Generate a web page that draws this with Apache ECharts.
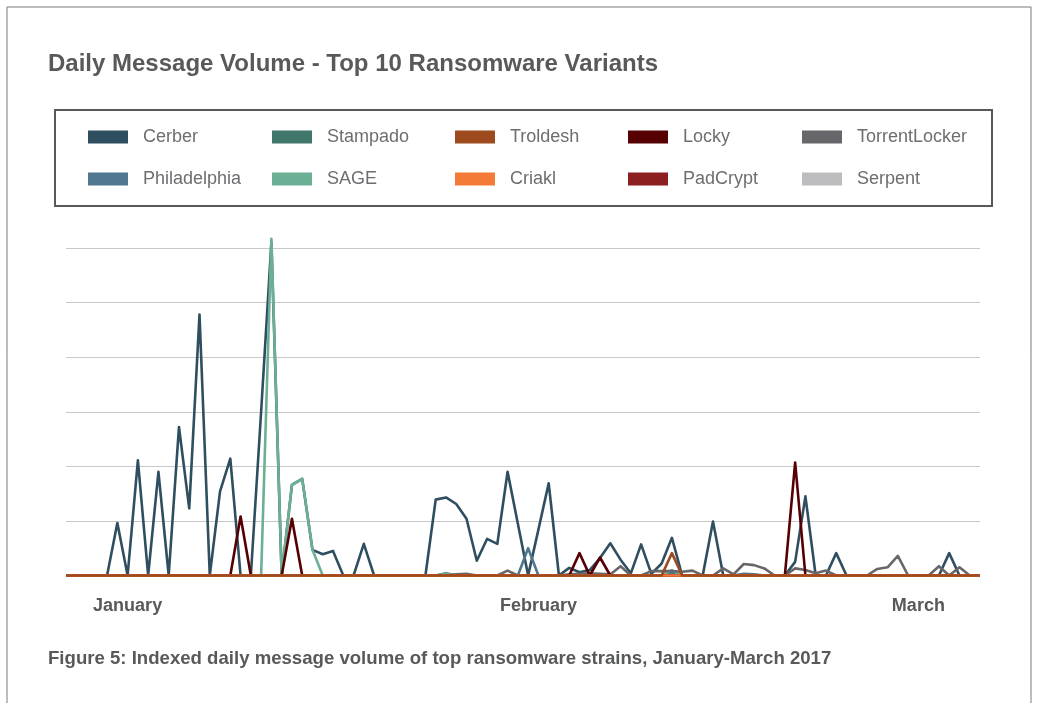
<!DOCTYPE html>
<html>
<head>
<meta charset="utf-8">
<title>Daily Message Volume - Top 10 Ransomware Variants</title>
<script src="https://cdn.jsdelivr.net/npm/echarts@6/dist/echarts.min.js"></script>
<style>
  html, body { margin: 0; padding: 0; background: #ffffff; }
  #chart { width: 1045px; height: 703px; }
</style>
</head>
<body>
<div id="chart"></div>
<script>
// Indexed daily message volume, 1 Jan - 31 Mar 2017 (90 days)
const monthNames = ['Jan', 'Feb', 'Mar'];
const monthLengths = [31, 28, 31];
const days = [];
monthNames.forEach((m, mi) => {
  for (let d = 1; d <= monthLengths[mi]; d++) days.push(m + ' ' + d);
});

// Month labels shown under the axis, and the day each one sits on
const monthLabels = ['January', 'February', 'March'];
const monthLabelDays = ['Jan 7', 'Feb 16', 'Mar 25'];

const seriesNames = ['Cerber', 'Philadelphia', 'Stampado', 'SAGE', 'TorrentLocker',
  'Serpent', 'Locky', 'PadCrypt', 'Criakl', 'Troldesh'];

const cerber = [
  0, 0, 0, 0, 0, 9.6, 0, 21.1, 0, 19.0,
  0, 27.2, 12.3, 47.8, 0, 15.4, 21.4, 0, 0, 30.0,
  61.0, 0, 16.6, 17.7, 4.7, 3.9, 4.5, 0, 0, 5.8,
  0, 0, 0, 0, 0, 0, 13.9, 14.3, 13.1, 10.4,
  2.7, 6.7, 5.8, 19.0, 9.5, 0, 8.4, 16.9, 0, 1.4,
  0.6, 1.0, 3.2, 5.9, 2.9, 0.4, 5.7, 0.3, 2.2, 6.9,
  0, 0, 0, 9.9, 0, 0, 0, 0, 0, 0,
  0, 2.5, 14.5, 0, 0, 4.1, 0, 0, 0, 0,
  0, 0, 0, 0, 0, 0, 4.1, 0, 0, 0
];
const philadelphia = [
  0, 0, 0, 0, 0, 0, 0, 0, 0, 0,
  0, 0, 0, 0, 0, 0, 0, 0, 0, 0,
  0, 0, 0, 0, 0, 0, 0, 0, 0, 0,
  0, 0, 0, 0, 0, 0, 0, 0, 0, 0,
  0, 0, 0, 0, 0, 5.0, 0, 0, 0, 0,
  0, 0, 0, 0, 0, 0, 0, 0, 0, 0.5,
  0, 0, 0, 0, 0, 0, 0.3, 0.2, 0, 0,
  0, 0, 0, 0, 0, 0, 0, 0, 0, 0,
  0, 0, 0, 0, 0, 0, 0, 0, 0, 0
];
const stampado = [
  0, 0, 0, 0, 0, 0, 0, 0, 0, 0,
  0, 0, 0, 0, 0, 0, 0, 0, 0, 0,
  0, 0, 0, 0, 0, 0, 0, 0, 0, 0,
  0, 0, 0, 0, 0, 0, 0, 0.4, 0, 0,
  0, 0, 0, 0, 0, 0, 0, 0, 0, 0,
  0, 0, 0, 0, 0, 0, 0, 0, 0, 0,
  0, 0, 0, 0, 0, 0, 0, 0, 0, 0,
  0, 0, 0, 0, 0, 0, 0, 0, 0, 0,
  0, 0, 0, 0, 0, 0, 0, 0, 0, 0
];
const sage = [
  0, 0, 0, 0, 0, 0, 0, 0, 0, 0,
  0, 0, 0, 0, 0, 0, 0, 0, 0, 0,
  61.7, 0, 16.6, 17.7, 4.7, 0, 0, 0, 0, 0,
  0, 0, 0, 0, 0, 0, 0, 0.3, 0, 0,
  0, 0, 0, 0, 0, 0, 0, 0, 0, 0,
  0, 0, 0, 0, 0, 0, 0, 0, 0, 1.0,
  0, 0, 0, 0, 0, 0, 0, 0, 0, 0,
  0, 0, 0, 0, 0, 0, 0, 0, 0, 0,
  0, 0, 0, 0, 0, 0, 0, 0, 0, 0
];
const torrentLocker = [
  0, 0, 0, 0, 0, 0, 0, 0, 0, 0,
  0, 0, 0, 0, 0, 0, 0, 0, 0, 0,
  0, 0, 0, 0, 0, 0, 0, 0, 0, 0,
  0, 0, 0, 0, 0, 0, 0, 0, 0.2, 0.3,
  0, 0, 0, 0.9, 0, 0, 0, 0, 0, 0.2,
  0.3, 0.4, 0.3, 0.2, 1.7, 0, 0, 0.8, 0.8, 0.8,
  0.7, 0.9, 0, 0, 1.3, 0.2, 2.1, 1.9, 1.3, 0,
  0, 1.3, 1.0, 0.4, 0.9, 0, 0, 0, 0, 1.2,
  1.5, 3.6, 0, 0, 0, 1.7, 0, 1.5, 0, 0
];
const serpent = new Array(90).fill(0);
const locky = [
  0, 0, 0, 0, 0, 0, 0, 0, 0, 0,
  0, 0, 0, 0, 0, 0, 0, 10.8, 0, 0,
  0, 0, 10.4, 0, 0, 0, 0, 0, 0, 0,
  0, 0, 0, 0, 0, 0, 0, 0, 0, 0,
  0, 0, 0, 0, 0, 0, 0, 0, 0, 0,
  4.1, 0, 3.3, 0, 0, 0, 0, 0, 0, 0,
  0, 0, 0, 0, 0, 0, 0, 0, 0, 0,
  0, 20.7, 0, 0, 0, 0, 0, 0, 0, 0,
  0, 0, 0, 0, 0, 0, 0, 0, 0, 0
];
const padCrypt = new Array(90).fill(0);
const criakl = new Array(90).fill(0);
const troldesh = [
  0, 0, 0, 0, 0, 0, 0, 0, 0, 0,
  0, 0, 0, 0, 0, 0, 0, 0, 0, 0,
  0, 0, 0, 0, 0, 0, 0, 0, 0, 0,
  0, 0, 0, 0, 0, 0, 0, 0, 0, 0,
  0, 0, 0, 0, 0, 0, 0, 0, 0, 0,
  0, 0, 0, 0, 0, 0, 0, 0, 0, 4.1,
  0, 0, 0, 0, 0, 0, 0, 0, 0, 0,
  0, 0, 0, 0, 0, 0, 0, 0, 0, 0,
  0, 0, 0, 0, 0, 0, 0, 0, 0, 0
];

const seriesValues = {
  'Cerber': cerber, 'Philadelphia': philadelphia, 'Stampado': stampado, 'SAGE': sage,
  'TorrentLocker': torrentLocker, 'Serpent': serpent, 'Locky': locky,
  'PadCrypt': padCrypt, 'Criakl': criakl, 'Troldesh': troldesh
};
const seriesColors = {
  'Cerber': '#2f4e5f', 'Stampado': '#40776a', 'Troldesh': '#9d4b1e', 'Locky': '#560003',
  'TorrentLocker': '#67666b', 'Philadelphia': '#51768f', 'SAGE': '#6baf94',
  'Criakl': '#f47a38', 'PadCrypt': '#8c1f1f', 'Serpent': '#bdbdbf'
};

// legend is laid out in five columns of two entries
const legendColumns = [
  ['Cerber', 'Philadelphia'],
  ['Stampado', 'SAGE'],
  ['Troldesh', 'Criakl'],
  ['Locky', 'PadCrypt'],
  ['TorrentLocker', 'Serpent']
];
const legendLefts = [83, 267, 450, 623, 797];

const FONT = '"Liberation Sans", Arial, Helvetica, sans-serif';
const TEXT_GREY = '#58595b';

const chart = echarts.init(document.getElementById('chart'), null, { renderer: 'canvas' });

const option = {
  backgroundColor: '#ffffff',
  animation: false,
  title: {
    text: 'Daily Message Volume - Top 10 Ransomware Variants',
    left: 43,
    top: 47,
    textStyle: { fontFamily: FONT, fontSize: 24, fontWeight: 'bold', color: TEXT_GREY }
  },
  legend: legendColumns.map((col, i) => ({
    data: col,
    orient: 'vertical',
    left: legendLefts[i],
    top: 123,
    itemWidth: 40,
    itemHeight: 13,
    itemGap: 24,
    icon: 'rect',
    selectedMode: false,
    textStyle: { fontFamily: FONT, fontSize: 18, color: '#6d6e71', padding: [0, 0, 0, 10] }
  })),
  grid: { left: 66, right: 65, top: 248, bottom: 127.5, containLabel: false },
  xAxis: {
    type: 'category',
    data: days,
    boundaryGap: false,
    axisLine: { show: false },
    axisTick: { show: false },
    axisLabel: {
      interval: (idx, value) => monthLabelDays.indexOf(value) !== -1,
      formatter: (value) => monthLabels[monthLabelDays.indexOf(value)],
      margin: 22,
      fontFamily: FONT,
      fontSize: 18,
      fontWeight: 'bold',
      color: TEXT_GREY
    }
  },
  yAxis: {
    type: 'value',
    min: 0,
    max: 60,
    interval: 10,
    axisLabel: { show: false },
    axisLine: { show: false },
    axisTick: { show: false },
    splitLine: { lineStyle: { color: '#c8c8c8', width: 1 } }
  },
  series: seriesNames.map((name) => ({
    name: name,
    type: 'line',
    data: seriesValues[name],
    symbol: 'none',
    clip: false,
    color: seriesColors[name],
    lineStyle: { width: 2.6, color: seriesColors[name], join: 'round' }
  })),
  graphic: [
    {
      type: 'rect',
      shape: { x: 7, y: 7, width: 1024, height: 720 },
      style: { fill: null, stroke: '#7a7a7a', lineWidth: 1 },
      silent: true
    },
    {
      type: 'rect',
      shape: { x: 55, y: 110, width: 937, height: 96 },
      style: { fill: null, stroke: '#58595b', lineWidth: 2 },
      silent: true
    },
    {
      type: 'text',
      left: 48,
      top: 649,
      style: {
        text: 'Figure 5: Indexed daily message volume of top ransomware strains, January-March 2017',
        font: 'bold 18.6px ' + FONT,
        fill: TEXT_GREY
      },
      silent: true
    }
  ]
};

chart.setOption(option);
</script>
</body>
</html>
